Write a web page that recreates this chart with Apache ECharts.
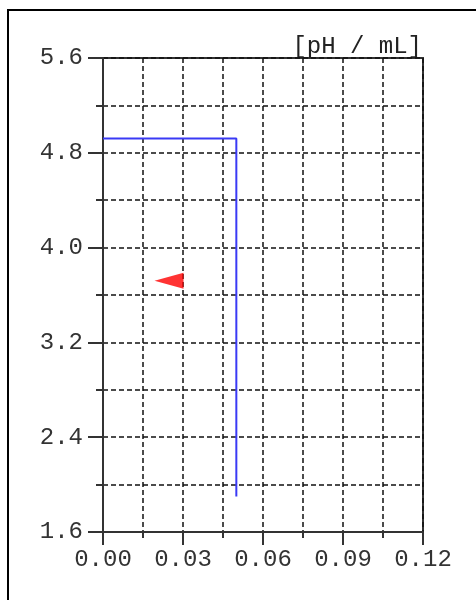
<!DOCTYPE html>
<html>
<head>
<meta charset="utf-8">
<script src="https://cdn.jsdelivr.net/npm/echarts@6/dist/echarts.min.js"></script>
<style>
  html, body { margin: 0; padding: 0; background: #fff; }
  #main { width: 476px; height: 600px; }
</style>
</head>
<body>
<div id="main"></div>
<script>
// 数据
const unitLabel = '[pH / mL]'
const lineData = [[0, 4.92], [0.05, 4.92], [0.05, 1.9]]
const markerData = [[0.03, 3.72]]

const font = '"Liberation Mono", "DejaVu Sans Mono", monospace'

const chart = echarts.init(document.getElementById('main'))
chart.setOption({
  animation: false,
  backgroundColor: '#fff',
  grid: {
    left: 103,
    right: 53,
    top: 58,
    bottom: 68,
    show: true,
    borderColor: '#333',
    borderWidth: 2
  },
  graphic: [
    {
      // 外框（左上）
      type: 'rect',
      shape: { x: 8, y: 10, width: 520, height: 640 },
      style: { fill: 'none', stroke: '#000', lineWidth: 2 }
    },
    {
      type: 'text',
      x: 422,
      y: 59,
      style: {
        text: unitLabel,
        font: '24px ' + font,
        fill: '#222',
        textAlign: 'right',
        textVerticalAlign: 'bottom'
      }
    }
  ],
  xAxis: {
    type: 'value',
    min: 0,
    max: 0.12,
    interval: 0.03,
    axisLine: { show: true, onZero: false, lineStyle: { color: '#333', width: 2 } },
    axisTick: { show: true, length: 13, lineStyle: { color: '#333', width: 2 } },
    minorTick: { show: true, splitNumber: 2, length: 6, lineStyle: { color: '#333', width: 2 } },
    axisLabel: {
      margin: 16,
      color: '#333',
      fontFamily: font,
      fontSize: 24,
      formatter: v => v.toFixed(2)
    },
    splitLine: { show: true, lineStyle: { color: '#111', width: 1.5, type: [5, 3] } },
    minorSplitLine: { show: true, lineStyle: { color: '#111', width: 1.5, type: [5, 3] } }
  },
  yAxis: {
    type: 'value',
    min: 1.6,
    max: 5.6,
    interval: 0.8,
    axisLine: { show: true, onZero: false, lineStyle: { color: '#333', width: 2 } },
    axisTick: { show: true, length: 15, lineStyle: { color: '#333', width: 2 } },
    minorTick: { show: true, splitNumber: 2, length: 7, lineStyle: { color: '#333', width: 2 } },
    axisLabel: {
      margin: 20,
      color: '#333',
      fontFamily: font,
      fontSize: 24,
      formatter: v => v.toFixed(1)
    },
    splitLine: { show: true, lineStyle: { color: '#111', width: 1.5, type: [5, 3] } },
    minorSplitLine: { show: true, lineStyle: { color: '#111', width: 1.5, type: [5, 3] } }
  },
  series: [
    {
      type: 'line',
      data: lineData,
      showSymbol: false,
      lineStyle: { color: '#3a3af5', width: 2 },
      z: 3
    },
    {
      type: 'scatter',
      data: markerData,
      symbol: 'triangle',
      symbolSize: [16, 29],
      symbolRotate: 90,
      symbolOffset: [-14, 0],
      itemStyle: { color: '#ff0000' },
      z: 4
    }
  ]
})
</script>
</body>
</html>
